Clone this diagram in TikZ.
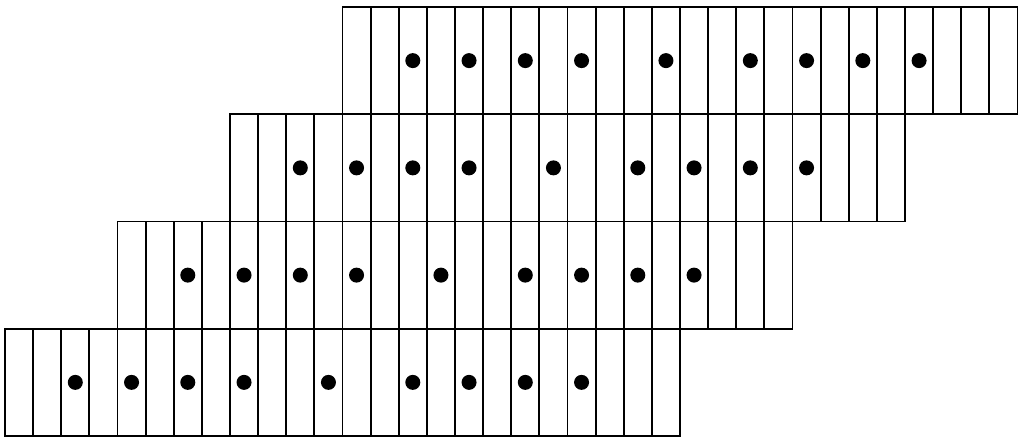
\documentclass[tikz,border=0pt]{standalone}
\begin{document}
\begin{tikzpicture}[x=1pt, y=1pt, line width=1.8pt]
        \useasboundingbox (0,0) rectangle (1024,443);
        \def\cellw{28.125}
        \def\rowh{107.25}
        
        \foreach \r in {0,...,3} {
            \pgfmathsetmacro{\xo}{5+4*\cellw*\r}
            \pgfmathsetmacro{\yo}{7+\rowh*\r}
            \foreach \c in {0,...,23}
                \draw (\xo+\c*\cellw,\yo) rectangle ++(\cellw,\rowh);
            \foreach \c in {2,4,6,8,11,14,16,18,20}
                \fill (\xo+\c*\cellw+\cellw/2,\yo+\rowh/2) circle[radius=7.5pt];
        }
        
    \end{tikzpicture}
\end{document}
